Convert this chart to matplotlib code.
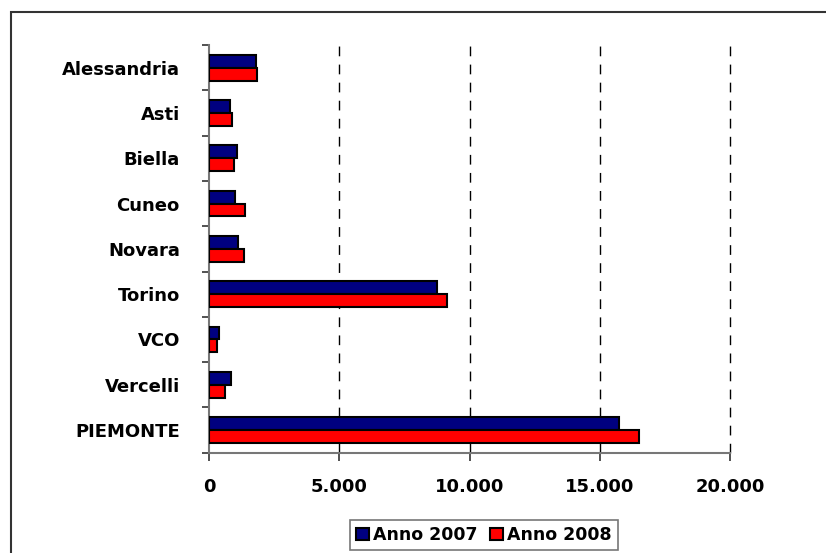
import matplotlib
matplotlib.use("Agg")
import matplotlib.pyplot as plt
import numpy as np
from matplotlib.patches import Rectangle
from matplotlib.ticker import FixedLocator, FuncFormatter

categories = ["Alessandria", "Asti", "Biella", "Cuneo", "Novara", "Torino", "VCO", "Vercelli", "PIEMONTE"]
anno_2007 = [1808, 808, 1090, 987, 1103, 8756, 372, 846, 15757]
anno_2008 = [1830, 897, 975, 1372, 1346, 9128, 321, 603, 16488]
series_labels = ["Anno 2007", "Anno 2008"]
x_ticks = [0, 5000, 10000, 15000, 20000]

plt.rcParams['font.family'] = ['DejaVu Sans']
plt.rcParams['font.weight'] = 'bold'

fig = plt.figure(figsize=(8.26, 5.53), dpi=100)
fig.patches.append(Rectangle((11/826, -0.1), 1.2, 1 - 12.5/553 + 0.1, transform=fig.transFigure,
                             fill=False, edgecolor='#333333', linewidth=1.5))
ax = fig.add_axes([209/826, 1 - 452.7/553, (730 - 209)/826, (452.7 - 45)/553])

y = np.arange(len(categories))
h = 0.285
b1 = ax.barh(y - h/2, anno_2007, height=h, color='#000080', edgecolor='black', linewidth=1.5, label=series_labels[0], zorder=3)
b2 = ax.barh(y + h/2, anno_2008, height=h, color='#FF0000', edgecolor='black', linewidth=1.5, label=series_labels[1], zorder=3)

ax.set_ylim(len(categories) - 0.5, -0.5)
ax.set_xlim(0, 20000)

ax.set_yticks(y)
ax.set_yticklabels(categories, fontsize=13, fontweight='bold')
ax.yaxis.set_minor_locator(FixedLocator(np.arange(-0.5, len(categories), 1.0)))
ax.tick_params(axis='y', which='major', length=0, pad=21)
ax.tick_params(axis='y', which='minor', length=5, width=1.2, color='#333333', direction='out')

ax.set_xticks(x_ticks)
ax.xaxis.set_major_formatter(FuncFormatter(lambda v, p: f"{int(v):,}".replace(",", ".")))
ax.tick_params(axis='x', which='major', length=6, width=1.2, color='#333333', pad=12, labelsize=13)
for lbl in ax.get_xticklabels():
    lbl.set_fontweight('bold')

for xv in x_ticks[1:]:
    ax.axvline(xv, color='black', linestyle=(0, (7, 6)), linewidth=1, zorder=1, clip_on=False)

for s in ['top', 'right']:
    ax.spines[s].set_visible(False)
for s in ['left', 'bottom']:
    ax.spines[s].set_color('#777777')
    ax.spines[s].set_linewidth(1.5)

leg = fig.legend(handles=[b1, b2], labels=series_labels, loc='center', bbox_to_anchor=(484/826, 1 - 535/553),
                 ncol=2, frameon=True, fancybox=False, edgecolor='#555555',
                 handlelength=0.75, handleheight=0.75, handletextpad=0.25, columnspacing=0.7,
                 borderpad=0.35, prop={'weight': 'bold', 'size': 12.5})
leg.get_frame().set_linewidth(1.2)

fig.savefig("out.png", dpi=100)
